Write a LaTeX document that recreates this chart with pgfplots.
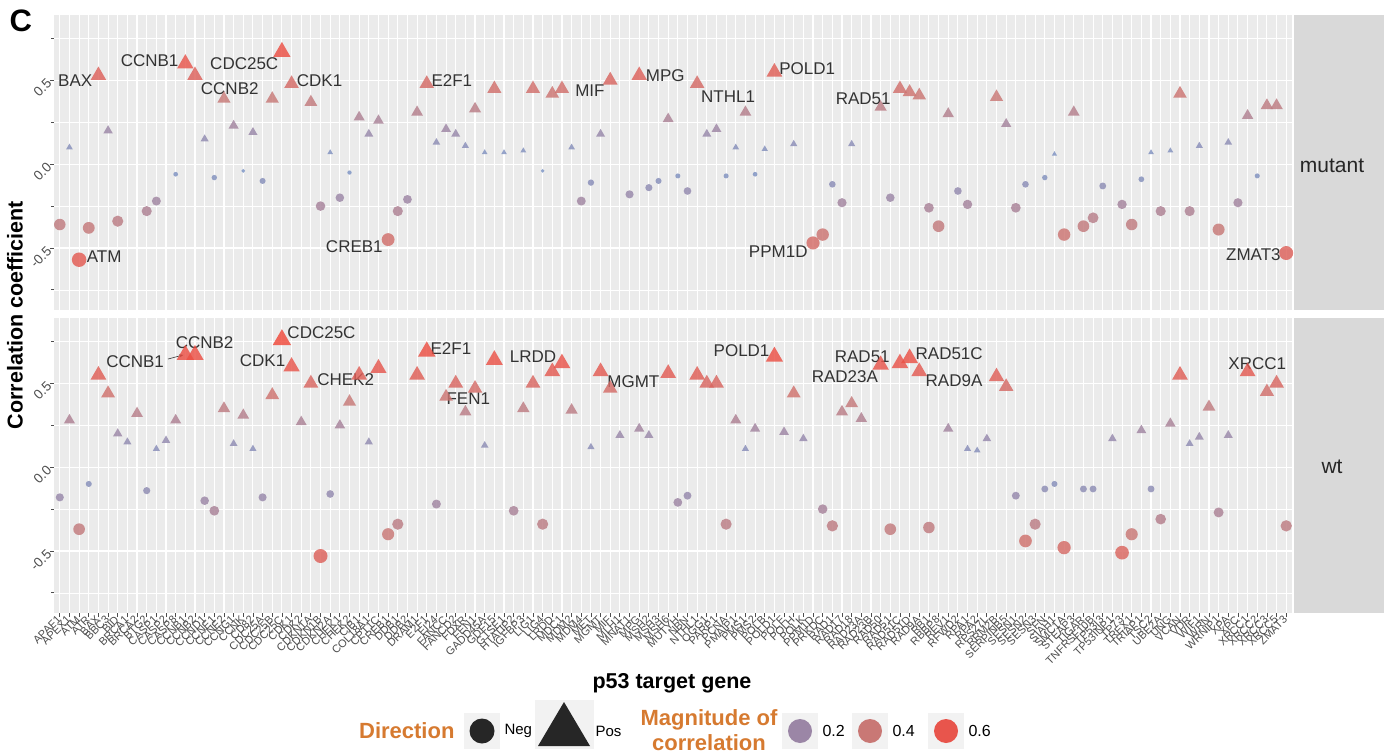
\documentclass[border=0pt]{standalone}
\usepackage{pgfplots}
\pgfplotsset{compat=1.18}
\usepackage{pgfplotstable}
\usetikzlibrary{arrows.meta}
\usepackage{fontspec}
\setmainfont{Liberation Sans}
\definecolor{panelbg}{RGB}{235,235,235}
\definecolor{stripbg}{RGB}{217,217,217}
\definecolor{ticklab}{RGB}{77,77,77}
\definecolor{labtxt}{RGB}{51,51,51}
\definecolor{legor}{RGB}{214,122,48}
\definecolor{keybg}{RGB}{242,242,242}
\definecolor{mag2}{RGB}{155,134,166}
\definecolor{mag4}{RGB}{201,120,117}
\definecolor{mag6}{RGB}{232,85,76}

% mutant panel: gene index, correlation coefficient
\pgfplotstableread{
i v
0 -0.36
1 0.10
2 -0.57
3 -0.38
4 0.53
5 0.20
6 -0.34
9 -0.28
10 -0.22
12 -0.06
13 0.60
14 0.53
15 0.15
16 -0.08
17 0.39
18 0.23
19 -0.04
20 0.19
21 -0.10
22 0.39
23 0.67
24 0.48
26 0.37
27 -0.25
28 0.07
29 -0.20
30 -0.05
31 0.28
32 0.18
33 0.26
34 -0.45
35 -0.28
36 -0.21
37 0.31
38 0.48
39 0.13
40 0.21
41 0.18
42 0.11
43 0.33
44 0.07
45 0.45
46 0.07
48 0.08
49 0.45
50 -0.04
51 0.42
52 0.45
53 0.10
54 -0.22
55 -0.11
56 0.18
57 0.50
59 -0.18
60 0.53
61 -0.14
62 -0.10
63 0.27
64 -0.07
65 -0.16
66 0.48
67 0.18
68 0.21
69 -0.07
70 0.10
71 0.31
72 -0.06
73 0.09
74 0.55
76 0.12
78 -0.47
79 -0.42
80 -0.12
81 -0.23
82 0.12
85 0.34
86 -0.20
87 0.45
88 0.43
89 0.41
90 -0.26
91 -0.37
92 0.30
93 -0.16
94 -0.24
97 0.40
98 0.24
99 -0.26
100 -0.12
102 -0.08
103 0.06
104 -0.42
105 0.31
106 -0.37
107 -0.32
108 -0.13
110 -0.24
111 -0.36
112 -0.09
113 0.07
114 -0.28
115 0.08
116 0.42
117 -0.28
118 0.11
120 -0.39
121 0.13
122 -0.23
123 0.29
124 -0.07
125 0.35
126 0.35
127 -0.53
}\mutant

% wt panel
\pgfplotstableread{
i v
0 -0.18
1 0.28
2 -0.37
3 -0.10
4 0.55
5 0.44
6 0.20
7 0.15
8 0.32
9 -0.14
10 0.11
11 0.16
12 0.28
13 0.67
14 0.67
15 -0.20
16 -0.26
17 0.35
18 0.14
19 0.31
20 0.11
21 -0.18
22 0.43
23 0.76
24 0.60
25 0.27
26 0.50
27 -0.53
28 -0.16
29 0.25
30 0.39
31 0.55
32 0.15
33 0.59
34 -0.40
35 -0.34
37 0.55
38 0.69
39 -0.22
40 0.42
41 0.50
42 0.33
43 0.47
44 0.13
45 0.64
47 -0.26
48 0.35
49 0.50
50 -0.34
51 0.57
52 0.62
53 0.34
55 0.12
56 0.57
57 0.47
58 0.19
60 0.23
61 0.19
63 0.56
64 -0.21
65 -0.17
66 0.55
67 0.50
68 0.50
69 -0.34
70 0.28
71 0.11
72 0.23
74 0.66
75 0.21
76 0.44
77 0.17
79 -0.25
80 -0.35
81 0.33
82 0.38
83 0.29
85 0.61
86 -0.37
87 0.62
88 0.65
89 0.57
90 -0.36
92 0.23
94 0.11
95 0.10
96 0.17
97 0.54
98 0.48
99 -0.17
100 -0.44
101 -0.34
102 -0.13
103 -0.10
104 -0.48
106 -0.13
107 -0.13
109 0.17
110 -0.51
111 -0.40
112 0.22
113 -0.13
114 -0.31
115 0.26
116 0.55
117 0.14
118 0.18
119 0.36
120 -0.27
121 0.19
123 0.57
125 0.45
126 0.50
127 -0.35
}\wt

\def\genes{APAF1,APEX1,ATM,ATR,BAX,BBC3,BID,BRCA1,BRCA2,BTG2,CASP1,CASP2,CASP8,CCNB1,CCNB2,CCND1,CCNE1,CCNE2,CCNG1,CCNK,CD82,CDC25A,CDC25B,CDC25C,CDK1,CDK2,CDKN1A,CDKN1B,CDKN2A,CHEK1,CHEK2,CIB1,COL18A1,CPT1C,CREB1,DDB1,DDB2,DRAM1,E2F1,EI24,FANCC,FANCD2,FDXR,FEN1,GADD45A,GDF15,GTSE1,HTATIP2,IGFBP3,LIG1,LIG4,LRDD,MDC1,MDM2,MDM4,MET,MGMT,MIF,MLH1,MNAT1,MPG,MSH2,MSH3,MSH6,MUTYH,NBN,NTHL1,OGG1,PARP1,PCNA,PMAIP1,PMS1,PMS2,POLB,POLD1,POLE,POLH,POLK,PPM1D,PRKDC,RAD1,RAD17,RAD18,RAD23A,RAD23B,RAD50,RAD51,RAD51C,RAD51D,RAD9A,RB1,RBBP8,REV1,RFWD2,RPA1,RPA2,RPS27L,RRM2B,SERPINB5,SESN1,SESN2,SESN3,SFN,SIAH1,SMC1A,STEAP3,TIGAR,TNFRSF10B,TP53I3,TP53INP1,TP73,TREX1,TRIAP1,TSC2,UBE2A,UNG,VCAN,VDR,WIF1,WRN,WRNIP1,XPA,XPC,XRCC1,XRCC2,XRCC3,XRCC5,ZMAT3}

\tikzset{lab/.style={font=\fontsize{17}{19}\selectfont, text=labtxt, inner sep=1pt}}

\pgfplotsset{
  panel/.style={
    scale only axis, width=1238pt, height=295pt,
    xmin=-0.6, xmax=127.6, ymin=-0.87, ymax=0.89,
    axis background/.style={fill=panelbg},
    axis line style={draw=none},
    xtick={0,...,127},
    ytick={-0.5,0,0.5}, yticklabels={-0.5,0.0,0.5},
    minor ytick={-0.75,-0.25,0.25,0.75},
    xmajorgrids, ymajorgrids, yminorgrids,
    major grid style={white, line width=1.1pt},
    minor grid style={white, line width=0.55pt},
    tick align=outside, ytick pos=left, xtick pos=bottom,
    major tick length=4pt,
    tick style={ticklab, line width=0.8pt},
    yticklabel style={rotate=45, anchor=east, font=\fontsize{13.5}{14}\selectfont, text=ticklab, inner sep=1pt},
    colormap={magn}{rgb255(0pt)=(112,150,205); rgb255(20pt)=(155,134,166); rgb255(40pt)=(201,120,117); rgb255(60pt)=(232,85,76); rgb255(76pt)=(240,72,58)},
    point meta min=0, point meta max=0.76,
    clip=false,
  },
  negpts/.style={scatter, only marks, mark=*,
    point meta={abs(\thisrow{v})},
    scatter/use mapped color={draw=mapped color, fill=mapped color, draw opacity=0, fill opacity=0.82},
    visualization depends on={9.6*sqrt(abs(\thisrow{v})) \as \rmark},
    scatter/@pre marker code/.append style={/tikz/mark size=\rmark pt},
    y filter/.expression={y<0 ? y : nan}, unbounded coords=discard},
  pospts/.style={scatter, only marks, mark=triangle*,
    point meta={abs(\thisrow{v})},
    scatter/use mapped color={draw=mapped color, fill=mapped color, draw opacity=0, fill opacity=0.82},
    visualization depends on={12.2*sqrt(abs(\thisrow{v})) \as \rmark},
    scatter/@pre marker code/.append style={/tikz/mark size=\rmark pt},
    y filter/.expression={y>=0 ? y : nan}, unbounded coords=discard},
}

\begin{document}
\begin{tikzpicture}[x=1pt,y=1pt]
\path[use as bounding box] (0,0) rectangle (1384,-754);

% ---------- mutant ----------
\begin{axis}[panel, at={(54pt,-15pt)}, anchor=north west,
  xticklabels={}, xtick style={draw=none}]
\addplot[negpts] table[x=i,y=v] {\mutant};
\addplot[pospts] table[x=i,y=v] {\mutant};
\node[lab] at (axis cs:1.6,0.50) {BAX};
\node[lab] at (axis cs:9.3,0.62) {CCNB1};
\node[lab] at (axis cs:19.1,0.60) {CDC25C};
\node[lab] at (axis cs:17.6,0.45) {CCNB2};
\node[lab] at (axis cs:26.9,0.50) {CDK1};
\node[lab] at (axis cs:40.6,0.50) {E2F1};
\node[lab] at (axis cs:54.9,0.44) {MIF};
\node[lab] at (axis cs:62.7,0.53) {MPG};
\node[lab] at (axis cs:69.2,0.40) {NTHL1};
\node[lab] at (axis cs:77.4,0.57) {POLD1};
\node[lab] at (axis cs:83.2,0.39) {RAD51};
\node[lab] at (axis cs:30.5,-0.49) {CREB1};
\node[lab] at (axis cs:4.6,-0.55) {ATM};
\node[lab] at (axis cs:74.4,-0.52) {PPM1D};
\node[lab] at (axis cs:123.6,-0.54) {ZMAT3};
\end{axis}

% ---------- wt ----------
\begin{axis}[panel, at={(54pt,-318pt)}, anchor=north west,
  xticklabels/.expanded={\genes},
  xticklabel style={rotate=45, anchor=east, font=\fontsize{11}{12}\selectfont, text=ticklab, inner sep=1pt}]
\addplot[negpts] table[x=i,y=v] {\wt};
\addplot[pospts] table[x=i,y=v] {\wt};
\node[lab] at (axis cs:15,0.74) {CCNB2};
\node[lab] at (axis cs:7.8,0.63) {CCNB1};
\draw[labtxt, line width=0.6pt, -{Stealth[length=4pt]}] (axis cs:11.2,0.645) -- (axis cs:12.8,0.67);
\node[lab] at (axis cs:27.1,0.80) {CDC25C};
\node[lab] at (axis cs:21,0.635) {CDK1};
\node[lab] at (axis cs:29.6,0.52) {CHEK2};
\node[lab] at (axis cs:40.5,0.71) {E2F1};
\node[lab] at (axis cs:42.3,0.41) {FEN1};
\node[lab] at (axis cs:49,0.66) {LRDD};
\node[lab] at (axis cs:59.4,0.51) {MGMT};
\node[lab] at (axis cs:70.6,0.695) {POLD1};
\node[lab] at (axis cs:81.3,0.54) {RAD23A};
\node[lab] at (axis cs:83.1,0.66) {RAD51};
\node[lab] at (axis cs:92.1,0.68) {RAD51C};
\node[lab] at (axis cs:92.6,0.515) {RAD9A};
\node[lab] at (axis cs:124,0.62) {XRCC1};
\end{axis}

% strips
\fill[stripbg] (1294,-15) rectangle (1384,-310);
\fill[stripbg] (1294,-318) rectangle (1384,-613);
\node[font=\fontsize{21}{23}\selectfont, text=black!85] at (1332,-166) {mutant};
\node[font=\fontsize{21}{23}\selectfont, text=black!85] at (1332,-467) {wt};

% panel letter and axis titles
\node[font=\fontsize{31}{33}\selectfont\bfseries, anchor=west] at (6,-21) {C};
\node[font=\fontsize{21.5}{24}\selectfont\bfseries, rotate=90] at (15,-315) {Correlation coefficient};
\node[font=\fontsize{21.5}{24}\selectfont\bfseries] at (672,-683) {p53 target gene};

% legend
\node[font=\fontsize{22}{25}\selectfont\bfseries, text=legor, anchor=east] at (458,-731) {Direction};
\fill[keybg] (464,-713) rectangle (500,-749);
\fill[black!85] (482,-731) circle (12.5);
\node[font=\fontsize{15}{17}\selectfont, anchor=west] at (501,-731) {Neg};
\fill[keybg] (535,-700) rectangle (594,-749);
\fill[black!85] (564,-702) -- (538,-746) -- (590,-746) -- cycle;
\node[font=\fontsize{15}{17}\selectfont, anchor=west] at (592,-731) {Pos};
\node[font=\fontsize{22}{25}\selectfont\bfseries, text=legor, align=center] at (709,-730) {Magnitude of\\correlation};
\fill[keybg] (782,-713) rectangle (818,-749);
\fill[mag2] (800,-731) circle (12);
\node[font=\fontsize{16}{18}\selectfont, anchor=west] at (819,-731) {0.2};
\fill[keybg] (852,-713) rectangle (888,-749);
\fill[mag4] (870,-731) circle (12);
\node[font=\fontsize{16}{18}\selectfont, anchor=west] at (889,-731) {0.4};
\fill[keybg] (928,-713) rectangle (964,-749);
\fill[mag6] (946,-731) circle (12);
\node[font=\fontsize{16}{18}\selectfont, anchor=west] at (965,-731) {0.6};
\end{tikzpicture}
\end{document}
